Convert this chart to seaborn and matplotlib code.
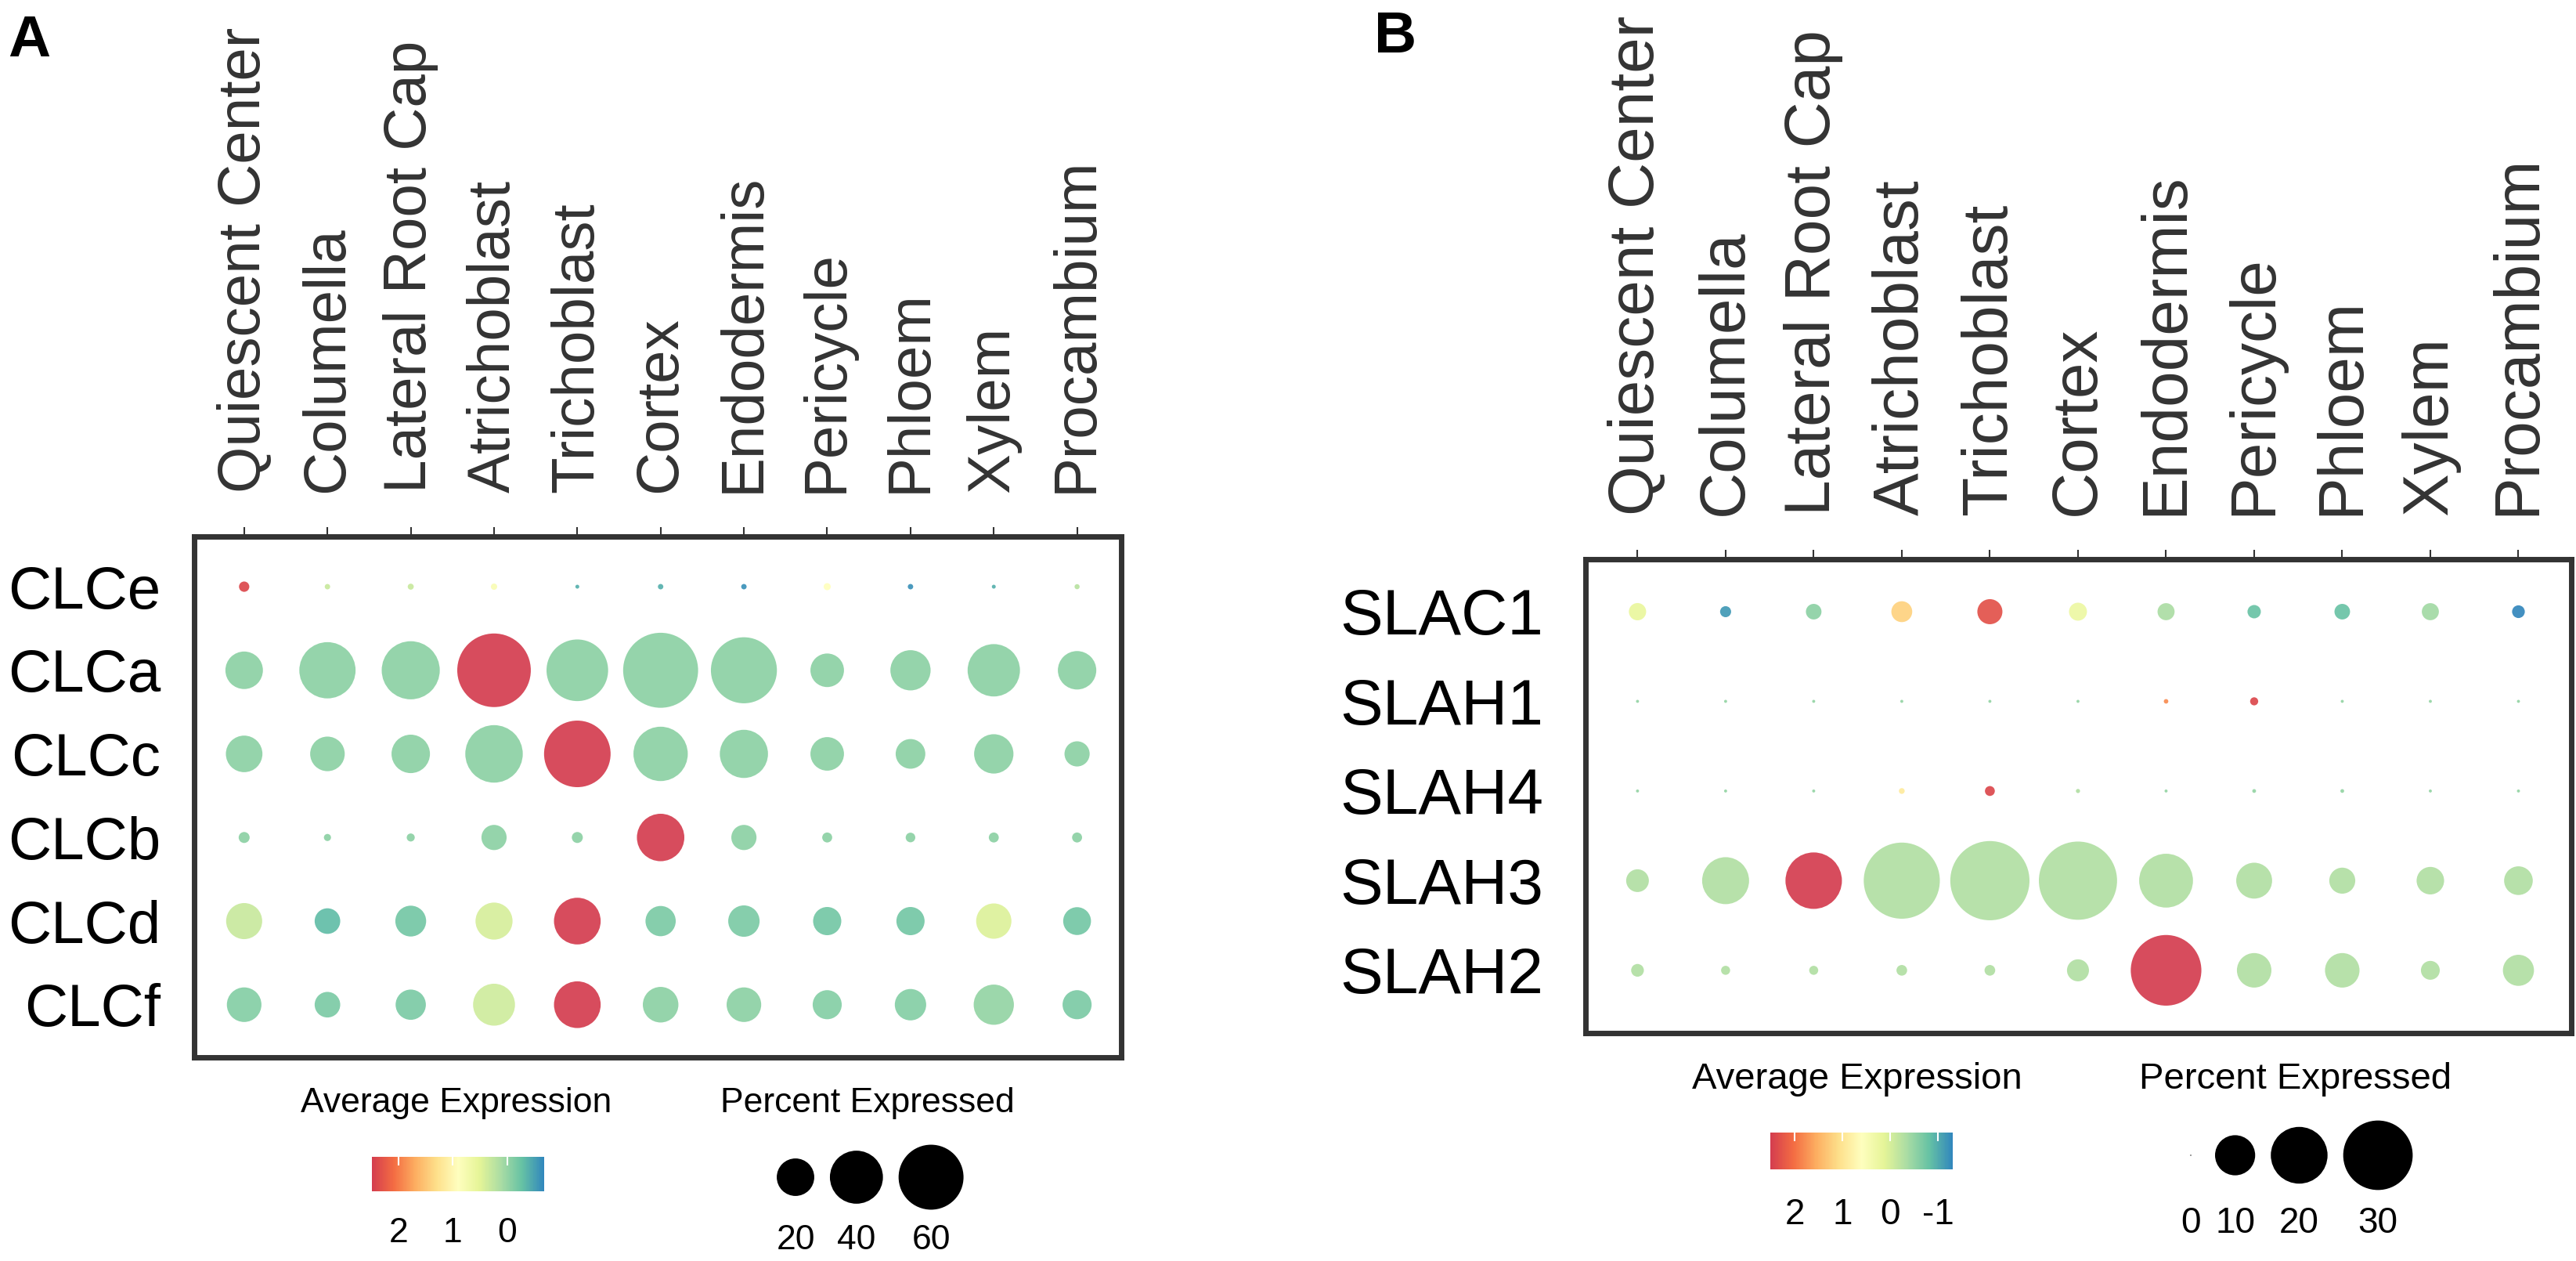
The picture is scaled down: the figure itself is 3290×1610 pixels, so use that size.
import matplotlib
matplotlib.use("Agg")
import matplotlib.pyplot as plt
from matplotlib.colors import ListedColormap, Normalize
import numpy as np
import pandas as pd
import seaborn as sns

W, H, DPI = 3290, 1610, 100

cell_types = [
    "Quiescent Center", "Columella", "Lateral Root Cap", "Atrichoblast",
    "Trichoblast", "Cortex", "Endodermis", "Pericycle", "Phloem", "Xylem",
    "Procambium",
]

# panel A: CLC genes (percent expressed, scaled average expression)
genes_a = ["CLCe", "CLCa", "CLCc", "CLCb", "CLCd", "CLCf"]
pct_a = [
    [1.5, 0.4, 0.5, 0.55, 0.2, 0.4, 0.4, 0.7, 0.4, 0.2, 0.35],
    [20, 45, 48, 77, 54, 80, 62, 16, 23, 39, 21],
    [19, 17, 21, 47, 63, 42, 33, 16, 12.5, 22, 9],
    [1.7, 0.7, 0.9, 9, 1.7, 32, 9, 1.4, 1.3, 1.4, 1.4],
    [18.5, 9.3, 13.5, 19.5, 31, 13, 14, 11.3, 11.3, 17.7, 11],
    [17, 9.3, 13, 25, 31, 18, 17, 12, 14, 23, 12],
]
avg_a = [
    [2.4, 0.3, 0.3, 0.8, -0.4, -0.4, -0.6, 0.9, -0.6, -0.4, 0.2],
    [-0.05, -0.05, -0.05, 2.5, -0.05, -0.05, -0.05, -0.05, -0.05, -0.05, -0.05],
    [-0.05, -0.05, -0.05, -0.05, 2.5, -0.05, -0.05, -0.05, -0.05, -0.05, -0.05],
    [-0.05, -0.05, -0.05, -0.05, -0.05, 2.5, -0.05, -0.05, -0.05, -0.05, -0.05],
    [0.3, -0.3, -0.2, 0.4, 2.5, -0.15, -0.15, -0.2, -0.2, 0.45, -0.2],
    [-0.1, -0.15, -0.15, 0.35, 2.5, -0.05, -0.05, -0.1, -0.1, 0.0, -0.15],
]

# panel B: SLAC/SLAH genes
genes_b = ["SLAC1", "SLAH1", "SLAH4", "SLAH3", "SLAH2"]
pct_b = [
    [1.85, 0.75, 1.5, 2.7, 3.9, 2.0, 1.8, 1.1, 1.5, 1.8, 1.0],
    [0.05, 0.05, 0.05, 0.05, 0.05, 0.05, 0.12, 0.4, 0.05, 0.05, 0.05],
    [0.05, 0.05, 0.05, 0.2, 0.6, 0.1, 0.05, 0.08, 0.08, 0.05, 0.05],
    [3.2, 13.7, 19.8, 36, 39, 38, 18, 8, 4.2, 4.7, 5.1],
    [1.0, 0.5, 0.5, 0.7, 0.7, 3.0, 31, 7.4, 7.4, 2.2, 6],
]
avg_b = [
    [0.2, -1.15, -0.55, 1.2, 2.3, 0.25, -0.35, -0.8, -0.8, -0.4, -1.3],
    [-0.5, -0.5, -0.5, -0.5, -0.5, -0.5, 1.8, 2.4, -0.5, -0.5, -0.5],
    [-0.5, -0.5, -0.5, 0.9, 2.4, -0.3, -0.5, -0.5, -0.5, -0.5, -0.5],
    [-0.3, -0.3, 2.5, -0.3, -0.3, -0.3, -0.3, -0.3, -0.3, -0.3, -0.3],
    [-0.3, -0.3, -0.3, -0.3, -0.3, -0.3, 2.5, -0.3, -0.3, -0.3, -0.3],
]

expr_range_a = (-0.68, 2.49)
expr_range_b = (-1.31, 2.51)
cbar_ticks_a = [2, 1, 0]
cbar_ticks_b = [2, 1, 0, -1]
size_keys_a = [20, 40, 60]
size_keys_b = [0, 10, 20, 30]

# marker area (pt^2) per percent point
size_k_a = 59.4
size_k_b = 136.0

spectral = plt.get_cmap("Spectral")
expr_cmap = ListedColormap(spectral(np.linspace(0.9, 0.1, 256)))


def long_frame(genes, pct, avg):
    rows = []
    for g, p_row, a_row in zip(genes, pct, avg):
        for c, p, a in zip(cell_types, p_row, a_row):
            rows.append({"cell": c, "gene": g, "pct": p, "avg": a})
    return pd.DataFrame(rows)


def dot_panel(ax, genes, pct, avg, norm, k, fs, ypad, xlim, ylim):
    df = long_frame(genes, pct, avg)
    sns.scatterplot(
        data=df, x="cell", y="gene", hue="avg", size="pct",
        palette=expr_cmap, hue_norm=norm,
        sizes=(1, 1 + k * 100), size_norm=(0, 100),
        linewidth=0, edgecolor="none", alpha=0.92, legend=False, ax=ax,
    )
    ax.set_xlim(*xlim)
    ax.set_ylim(*ylim)
    ax.xaxis.tick_top()
    ax.set_xticks(range(len(cell_types)))
    ax.set_xticklabels(cell_types, rotation=90, ha="center", va="bottom",
                       fontsize=fs, color="#333333")
    ax.set_yticks(range(len(genes)))
    ax.set_yticklabels(genes, fontsize=fs, color="black")
    ax.set_xlabel("")
    ax.set_ylabel("")
    ax.grid(False)
    ax.tick_params(axis="x", length=8.5, width=1.5, color="#333333", pad=32,
                   top=True, bottom=False, labeltop=True, labelbottom=False)
    ax.tick_params(axis="y", length=7, width=1.5, color="#333333", pad=ypad,
                   labelcolor="black")
    for sp in ax.spines.values():
        sp.set_visible(True)
        sp.set_linewidth(5)
        sp.set_color("#333333")


def expr_bar(fig, rect, norm, ticks, fs, pad):
    cax = fig.add_axes(rect)
    grad = np.linspace(norm.vmax, norm.vmin, 256)[None, :]
    cax.imshow(grad, cmap=expr_cmap, norm=norm, aspect="auto",
               extent=[norm.vmax, norm.vmin, 0, 1])
    cax.set_xlim(norm.vmax, norm.vmin)
    cax.set_yticks([])
    cax.set_xticks(ticks)
    cax.set_xticklabels([str(t) for t in ticks], fontsize=fs)
    cax.tick_params(axis="x", direction="in", length=8, width=1.5,
                    color="white", pad=pad, top=True, labelcolor="black")
    for sp in cax.spines.values():
        sp.set_visible(False)


def size_legend(over, keys, k, x0, y_dot, y_lab, fs, min_r=11, gap=20):
    s = [1 + k * p for p in keys]
    r = [max(np.sqrt(v) * DPI / 72 / 2, min_r) for v in s]
    xs = [x0]
    for i in range(1, len(keys)):
        xs.append(xs[-1] + r[i - 1] + gap + r[i])
    over.scatter(xs, [y_dot] * len(keys), s=s, color="black", linewidths=0)
    for x, p in zip(xs, keys):
        over.text(x, y_lab, str(p), ha="center", va="center", fontsize=fs,
                  color="black")


sns.set_theme(style="white")
plt.rcParams["font.family"] = ["Liberation Sans", "DejaVu Sans"]
plt.rcParams["text.color"] = "black"

fig = plt.figure(figsize=(W / DPI, H / DPI), dpi=DPI)

norm_a = Normalize(*expr_range_a)
norm_b = Normalize(*expr_range_b)

ax_a = fig.add_axes([248 / W, 1 - 1350 / H, (1432 - 248) / W, (1350 - 685) / H])
dot_panel(ax_a, genes_a, pct_a, avg_a, norm_a, size_k_a, 55, 24,
          (-0.60, 10.53), (5.63, -0.60))

ax_b = fig.add_axes([2025 / W, 1 - 1319 / H, (3284 - 2025) / W, (1319 - 714) / H])
dot_panel(ax_b, genes_b, pct_b, avg_b, norm_b, size_k_b, 59, 32,
          (-0.59, 10.60), (4.70, -0.585))

expr_bar(fig, [475 / W, 1 - 1521 / H, 220 / W, 44 / H], norm_a, cbar_ticks_a, 32, 24)
expr_bar(fig, [2261 / W, 1 - 1493 / H, 233 / W, 47 / H], norm_b, cbar_ticks_b, 33, 26)

over = fig.add_axes([0, 0, 1, 1])
over.set_xlim(0, W)
over.set_ylim(H, 0)
over.axis("off")

over.text(583, 1408, "Average Expression", ha="center", va="center", fontsize=32)
over.text(1108, 1408, "Percent Expressed", ha="center", va="center", fontsize=32)
over.text(2372, 1378, "Average Expression", ha="center", va="center", fontsize=34)
over.text(2932, 1378, "Percent Expressed", ha="center", va="center", fontsize=34)

size_legend(over, size_keys_a, size_k_a, 1016, 1503, 1583, 32)
size_legend(over, size_keys_b, size_k_b, 2798, 1475, 1562, 33)

over.text(10, 18, "A", ha="left", va="top", fontsize=54, fontweight="bold")
over.text(1755, 13, "B", ha="left", va="top", fontsize=54, fontweight="bold")

fig.savefig("out.png", dpi=DPI)
